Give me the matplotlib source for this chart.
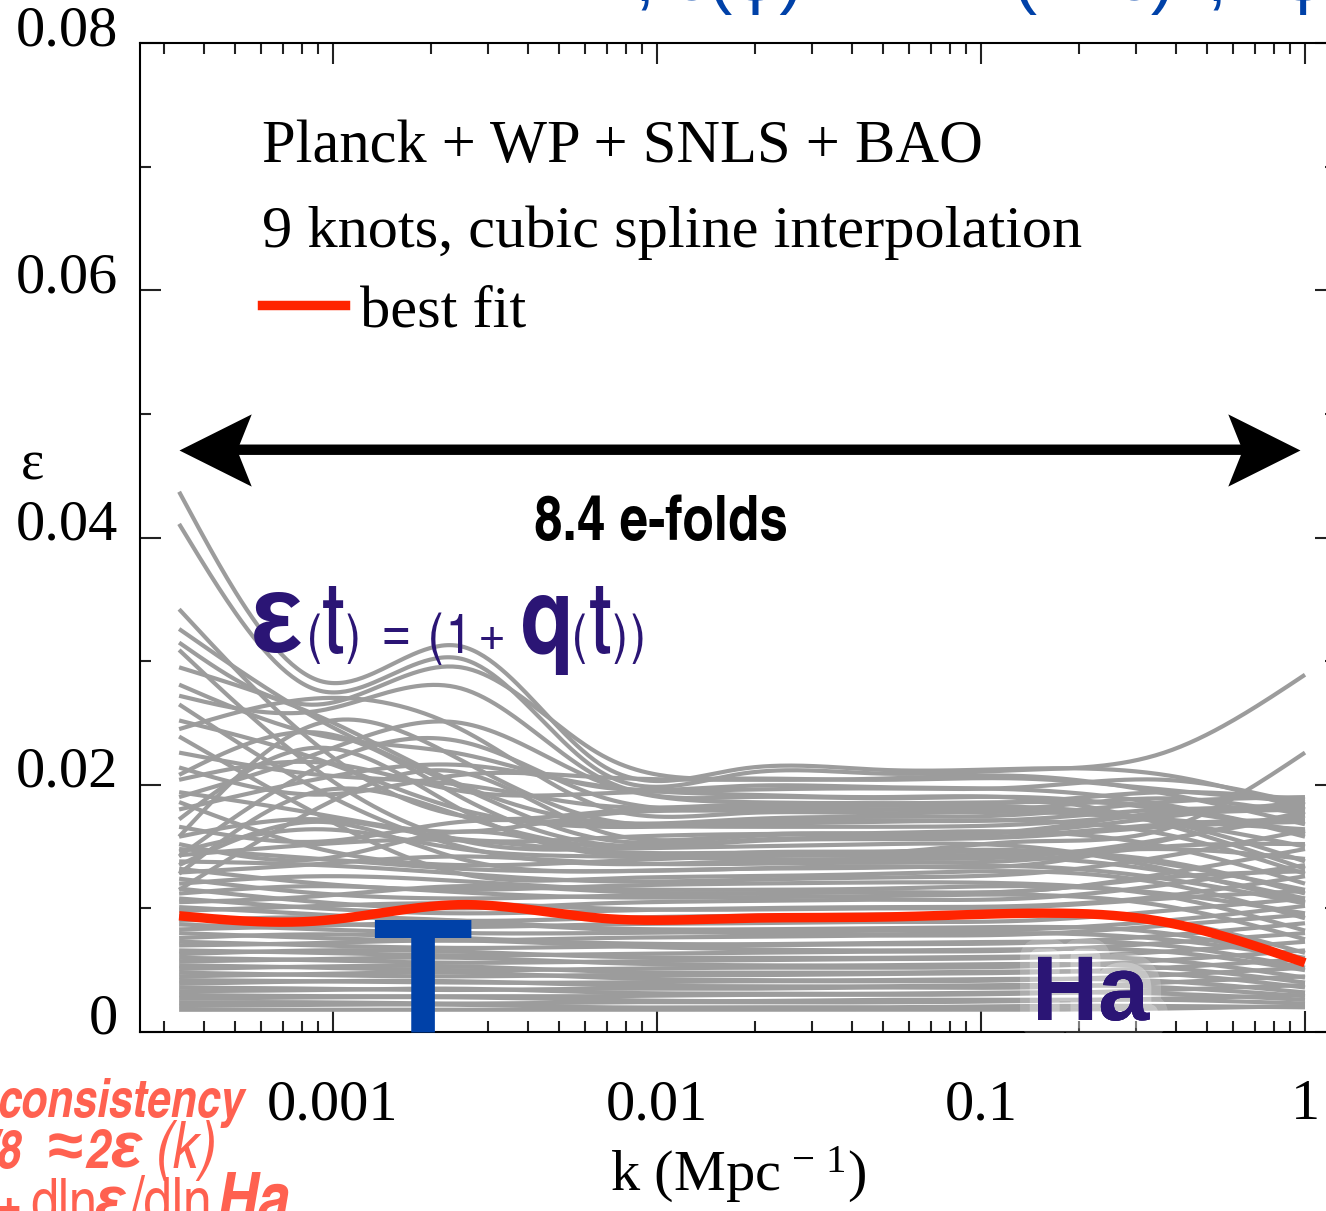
import numpy as np
import matplotlib.pyplot as plt
from matplotlib.path import Path
from matplotlib.lines import Line2D
from matplotlib.ticker import MultipleLocator, LogLocator, FuncFormatter, NullFormatter
from matplotlib import patheffects, transforms

# knots of the spline, equally spaced in ln k (e^-8 ... e^0)
k_knots = [3.35e-4, 9.12e-4, 2.48e-3, 6.74e-3, 1.83e-2, 4.98e-2, 0.135, 0.368, 1.0]

# epsilon x 1000 at the 9 knots
best_fit = [9.4, 9.0, 10.3, 9.2, 9.2, 9.3, 9.6, 8.9, 5.6]

hump_curves = [
    [43.7, 28.4, 31.2, 21.6, 21.3, 21.2, 21.3, 20.8, 18.0],
    [41.1, 27.6, 30.2, 21.0, 20.9, 20.9, 21.2, 22.6, 28.9],
    [31.5, 26.5, 29.5, 22.4, 20.5, 20.4, 20.5, 19.6, 18.6],
    [27.2, 26.0, 27.8, 20.5, 19.0, 18.9, 19.0, 18.0, 16.2],
]
steep_curves = [
    [34.2, 23.0, 17.5, 17.8, 18.2, 18.3, 18.2, 17.0, 13.8],
    [32.6, 25.2, 19.8, 15.6, 15.8, 16.0, 16.2, 17.4, 18.6],
    [30.9, 21.0, 15.5, 14.8, 15.0, 15.2, 15.0, 13.2, 10.5],
    [29.5, 25.5, 20.0, 17.0, 17.2, 17.4, 17.6, 18.6, 19.0],
    [28.1, 24.0, 22.5, 19.8, 19.9, 19.8, 19.6, 18.4, 15.8],
    [26.5, 19.5, 15.0, 13.6, 13.8, 14.0, 14.2, 15.6, 17.5],
    [25.2, 22.0, 18.0, 16.6, 16.8, 17.0, 17.1, 16.0, 12.8],
    [23.9, 17.5, 12.8, 12.4, 12.6, 12.8, 13.0, 12.0, 9.2],
    [22.6, 20.8, 20.0, 18.3, 18.4, 18.5, 18.6, 19.4, 18.8],
]
rising_curves = [
    [15.8, 25.0, 22.0, 17.2, 17.0, 17.1, 17.2, 18.0, 17.9],
    [24.5, 27.0, 24.5, 18.2, 17.7, 17.7, 17.8, 17.0, 15.0],
    [17.2, 23.0, 18.0, 14.4, 14.5, 14.6, 14.7, 13.6, 11.5],
    [20.8, 24.2, 19.0, 15.2, 15.5, 15.7, 15.9, 16.8, 17.2],
    [14.2, 21.5, 23.5, 19.0, 18.0, 18.0, 18.1, 17.2, 16.4],
    [19.0, 22.6, 25.0, 20.2, 18.6, 18.5, 18.6, 18.2, 16.0],
    [12.8, 19.5, 17.5, 15.0, 15.4, 15.6, 15.8, 16.6, 17.0],
    [11.5, 18.2, 21.0, 16.2, 15.9, 16.0, 16.3, 17.8, 18.3],
    [13.5, 17.0, 14.0, 13.0, 13.2, 13.3, 13.4, 12.4, 10.4],
]
mid_curves = [
    [21.4, 19.2, 20.8, 20.6, 20.4, 20.5, 20.7, 19.3, 16.8],
    [20.4, 21.8, 19.5, 19.3, 19.6, 19.7, 19.8, 20.4, 18.4],
    [19.4, 17.6, 16.2, 17.6, 17.9, 18.0, 18.1, 18.9, 17.6],
    [18.6, 14.8, 13.5, 13.8, 14.2, 14.3, 14.4, 14.8, 14.0],
    [18.0, 20.5, 21.6, 19.9, 19.2, 19.0, 18.9, 16.8, 13.2],
    [16.6, 15.4, 17.0, 16.8, 16.6, 16.6, 16.8, 17.6, 18.0],
    [15.8, 17.2, 15.6, 15.7, 16.0, 16.1, 16.2, 15.0, 12.0],
    [15.2, 14.0, 16.2, 14.6, 14.4, 14.5, 15.4, 16.4, 22.6],
    [14.6, 16.4, 14.8, 14.2, 14.0, 14.0, 14.1, 13.0, 10.8],
]
low_curves = [
    [14.8, 14.0, 13.2, 13.0, 13.2, 13.4, 13.5, 15.5, 17.8],
    [14.3, 15.2, 15.5, 14.6, 14.5, 14.5, 14.6, 13.8, 11.2],
    [13.8, 13.5, 12.8, 12.2, 12.3, 12.5, 12.8, 14.2, 16.3],
    [13.2, 12.0, 11.5, 11.8, 12.0, 12.1, 12.0, 11.0, 8.2],
    [12.9, 13.6, 14.2, 13.7, 13.6, 13.7, 13.9, 15.0, 15.2],
    [12.4, 11.2, 10.8, 11.0, 11.2, 11.3, 11.4, 12.8, 14.8],
    [12.0, 12.6, 12.2, 11.6, 11.5, 11.6, 11.8, 11.2, 9.6],
    [11.6, 10.5, 10.0, 10.4, 10.6, 10.7, 10.8, 11.9, 13.5],
    [11.2, 11.8, 11.3, 10.9, 10.9, 11.0, 11.1, 10.2, 7.5],
    [10.8, 10.0, 9.6, 9.8, 10.0, 10.1, 10.2, 11.0, 12.6],
    [10.5, 11.0, 11.8, 11.4, 11.2, 11.3, 11.4, 12.5, 13.0],
    [10.1, 9.5, 9.0, 9.2, 9.4, 9.5, 9.6, 9.0, 6.4],
    [9.8, 10.2, 10.4, 10.0, 9.9, 10.0, 10.1, 10.8, 11.4],
    [9.4, 8.8, 8.5, 8.7, 8.8, 8.9, 9.0, 9.8, 10.8],
    [9.0, 9.3, 9.0, 8.4, 8.3, 8.4, 8.5, 8.0, 5.8],
    [8.7, 8.3, 8.0, 8.0, 8.1, 8.2, 8.3, 9.0, 10.2],
    [8.3, 8.6, 8.8, 8.3, 8.0, 7.9, 8.0, 7.5, 6.0],
    [8.0, 7.6, 7.4, 7.6, 7.7, 7.8, 7.9, 8.6, 9.5],
    [7.6, 7.9, 7.6, 7.2, 7.1, 7.2, 7.3, 7.0, 5.2],
    [7.3, 7.0, 6.8, 6.9, 7.0, 7.1, 7.2, 7.8, 8.8],
    [7.0, 7.2, 7.4, 7.0, 6.7, 6.6, 6.7, 6.5, 5.0],
    [6.6, 6.4, 6.2, 6.3, 6.4, 6.5, 6.6, 7.2, 8.0],
    [6.3, 6.6, 6.5, 6.1, 6.0, 6.0, 6.1, 5.8, 4.4],
    [6.0, 5.8, 5.6, 5.7, 5.8, 5.9, 6.0, 6.5, 7.3],
    [5.7, 5.9, 6.0, 5.6, 5.4, 5.4, 5.5, 5.2, 4.0],
    [5.4, 5.2, 5.0, 5.1, 5.2, 5.2, 5.3, 5.8, 6.6],
    [5.1, 5.3, 5.3, 4.9, 4.8, 4.8, 4.9, 4.7, 3.6],
    [4.8, 4.6, 4.5, 4.6, 4.6, 4.7, 4.8, 5.2, 5.9],
    [4.5, 4.7, 4.8, 4.4, 4.2, 4.2, 4.3, 4.1, 3.2],
    [4.2, 4.1, 4.0, 4.0, 4.1, 4.1, 4.2, 4.6, 5.2],
    [3.9, 4.1, 4.1, 3.8, 3.7, 3.7, 3.8, 3.6, 2.9],
    [3.6, 3.5, 3.4, 3.5, 3.5, 3.6, 3.6, 4.0, 4.5],
    [3.3, 3.4, 3.5, 3.2, 3.1, 3.1, 3.2, 3.1, 2.6],
    [3.0, 2.9, 2.9, 2.9, 3.0, 3.0, 3.1, 3.4, 3.8],
    [2.7, 2.8, 2.8, 2.6, 2.5, 2.6, 2.6, 2.6, 2.3],
    [2.4, 2.4, 2.3, 2.4, 2.4, 2.4, 2.5, 2.7, 3.0],
    [2.1, 2.2, 2.2, 2.0, 2.0, 2.0, 2.1, 2.1, 2.0],
    [1.8, 1.8, 1.8, 1.8, 1.8, 1.8, 1.8, 1.9, 2.1],
]

y_ticks = [0, 0.02, 0.04, 0.06, 0.08]
arrow_k = [3.35e-4, 0.965]
arrow_eps = 0.0471

GREY = '#9c9c9c'
RED = '#ff2400'
PURPLE = '#2b1575'
BLUE = '#0041a8'
SALMON = '#ff6150'
SANS = ['Liberation Sans', 'DejaVu Sans']
COND = ['TeX Gyre Heros Cn', 'Liberation Sans', 'DejaVu Sans']

plt.rcParams['font.family'] = ['Liberation Serif', 'DejaVu Serif']
plt.rcParams['mathtext.fontset'] = 'custom'
plt.rcParams['mathtext.rm'] = 'Liberation Serif'
plt.rcParams['mathtext.it'] = 'Liberation Serif:italic'


def natural_spline(x, y, xs):
    """
    Natural cubic spline through (x, y), evaluated at xs.
    """
    x = np.asarray(x, float)
    y = np.asarray(y, float)
    n = len(x)
    h = np.diff(x)
    A = np.zeros((n, n))
    r = np.zeros(n)
    A[0, 0] = A[-1, -1] = 1
    for i in range(1, n - 1):
        A[i, i - 1] = h[i - 1]
        A[i, i] = 2 * (h[i - 1] + h[i])
        A[i, i + 1] = h[i]
        r[i] = 3 * ((y[i + 1] - y[i]) / h[i] - (y[i] - y[i - 1]) / h[i - 1])
    c = np.linalg.solve(A, r)
    b = (y[1:] - y[:-1]) / h - h * (2 * c[:-1] + c[1:]) / 3
    d = (c[1:] - c[:-1]) / (3 * h)
    idx = np.clip(np.searchsorted(x, xs) - 1, 0, n - 2)
    dx = xs - x[idx]
    return y[idx] + b[idx] * dx + c[idx] * dx ** 2 + d[idx] * dx ** 3


W, H = 1326, 1211
fig = plt.figure(figsize=(W / 100, H / 100), dpi=100)
ax = fig.add_axes([140 / W, (H - 1032) / H, (1336 - 140) / W, (1032 - 43) / H])


def put(s, x, y, size, color, weight='normal', style='normal', family=COND, ha='left', **kw):
    # place a piece of text at pixel position (x, baseline y) of the figure
    return fig.text(x / W, 1 - y / H, s, fontsize=size, color=color, fontweight=weight,
                    fontstyle=style, family=family, ha=ha, va='baseline', **kw)


# spline samples
lnk = np.log(k_knots)
ln_fine = np.linspace(lnk[0], lnk[-1], 400)
k_fine = np.exp(ln_fine)
for group in (low_curves, mid_curves, rising_curves, steep_curves, hump_curves):
    for c in group:
        ax.plot(k_fine, natural_spline(lnk, np.array(c) * 1e-3, ln_fine),
                color=GREY, lw=3.0, solid_capstyle='butt', zorder=2)
ax.plot(k_fine, natural_spline(lnk, np.array(best_fit) * 1e-3, ln_fine),
        color=RED, lw=6.8, solid_capstyle='butt', zorder=3)

# axes
ax.set_xscale('log')
ax.set_xlim(10 ** (-3 - 193 / 324), 10 ** (31 / 324))
ax.set_ylim(0, 0.08)
ax.set_yticks(y_ticks)
ax.yaxis.set_minor_locator(MultipleLocator(0.01))
ax.yaxis.set_major_formatter(FuncFormatter(lambda v, _: '0' if v == 0 else f'{v:.2f}'))
ax.xaxis.set_major_locator(LogLocator(base=10))
ax.xaxis.set_minor_locator(LogLocator(base=10, subs=range(2, 10)))
ax.xaxis.set_major_formatter(FuncFormatter(lambda v, _: f'{v:g}'))
ax.xaxis.set_minor_formatter(NullFormatter())
ax.tick_params(which='both', direction='in', top=True, right=True, width=1.5,
               labelsize=42, color='#222222')
ax.tick_params(which='major', length=15)
ax.tick_params(which='minor', length=8)
ax.tick_params(axis='x', pad=34)
ax.tick_params(axis='y', pad=16)
for sp in ax.spines.values():
    sp.set_linewidth(1.5)
up = transforms.ScaledTranslation(0, 18 / 100, fig.dpi_scale_trans)
for lab in ax.get_yticklabels():
    lab.set_transform(lab.get_transform() + up)

ax.set_ylabel('ε', rotation=0, fontsize=40, va='center', ha='center')
ax.yaxis.set_label_coords(-0.09, 0.573)
ax.set_xlabel(r'k (Mpc$^{\,-\,1}$)', fontsize=42, labelpad=10)

# legend block
ax.text((262 - 140) / 1196, (1032 - 162) / 989, 'Planck + WP + SNLS + BAO',
        transform=ax.transAxes, fontsize=43.6, va='baseline')
ax.text((262 - 140) / 1196, (1032 - 247) / 989, '9 knots, cubic spline interpolation',
        transform=ax.transAxes, fontsize=43.5, va='baseline')
best_handle = Line2D([], [], color=RED, lw=6.8)
ax.legend([best_handle], ['best fit'], loc='upper left', bbox_to_anchor=(262 / W, 1 - 284 / H),
          bbox_transform=fig.transFigure, frameon=False, fontsize=43.5, handlelength=1.38,
          handletextpad=0.25, borderpad=0, borderaxespad=0)

# double arrow across the k range
ax.annotate('', xy=(arrow_k[1], arrow_eps), xytext=(arrow_k[0], arrow_eps),
            arrowprops=dict(arrowstyle='-', lw=7.5, color='black', shrinkA=40, shrinkB=40),
            zorder=5)
head = Path([(0, 0), (-1, 0.5), (-0.8, 0), (-1, -0.5), (0, 0)],
            [Path.MOVETO, Path.LINETO, Path.LINETO, Path.LINETO, Path.CLOSEPOLY])
head_l = Path([(0, 0), (1, 0.5), (0.8, 0), (1, -0.5), (0, 0)],
              [Path.MOVETO, Path.LINETO, Path.LINETO, Path.LINETO, Path.CLOSEPOLY])
ax.plot([arrow_k[1]], [arrow_eps], marker=head, ms=104, color='black', mew=0, zorder=6)
ax.plot([arrow_k[0]], [arrow_eps], marker=head_l, ms=104, color='black', mew=0, zorder=6)
put('8.4 e-folds', 661, 540, 45, 'black', weight='bold', ha='center')

# epsilon(t) = (1+q(t))
put('ε', 250, 652, 80, PURPLE, weight='bold', family=SANS)
for s, x, size, wt in [('(', 307, 38, 'normal'), ('t', 322, 72, 'normal'),
                       (')', 346, 38, 'normal'), ('=', 381, 46, 'normal'), ('(', 428, 40, 'normal'),
                       ('1', 445, 40, 'normal'), ('+', 478, 42, 'normal'), ('q', 520, 76, 'bold'),
                       ('(', 572, 38, 'normal'), ('t', 589, 72, 'normal'), (')', 613, 38, 'normal'),
                       (')', 631, 38, 'normal')]:
    put(s, x, 653, size, PURPLE, weight=wt)

put('T', 372, 1032, 118, BLUE, weight='bold', family=SANS)
put('Ha', 1032, 1020, 66, PURPLE, weight='bold', family=SANS,
    path_effects=[patheffects.withStroke(linewidth=26, foreground='white', alpha=0.18),
                  patheffects.withStroke(linewidth=12, foreground='white', alpha=0.3),
                  patheffects.Normal()])

# red note, bottom left (partly outside the canvas)
put('consistency', -3, 1117, 37.5, SALMON, weight='bold', style='italic')
put('r/8', -31, 1168, 38, SALMON, weight='bold', style='italic')
put('≈', 48, 1168, 46, SALMON, weight='bold', family=SANS)
put('2', 85, 1168, 39, SALMON, weight='bold', style='italic')
put('ε', 110, 1168, 47, SALMON, weight='bold', style='italic', family=SANS)
put('(k)', 156, 1168, 46, SALMON, style='italic')
put('+', -4, 1222, 40, SALMON, weight='bold')
put('dln', 30, 1222, 44, SALMON)
put('ε', 94, 1222, 46, SALMON, weight='bold', style='italic', family=SANS)
put('/dln', 130, 1222, 45, SALMON)
put('Ha', 216, 1222, 50, SALMON, weight='bold', style='italic')

# blue heading, cut by the top edge
for s, x in [(',', 634), ('ε(φ) = 1 +', 676), ('(1−ε)', 1013), (',', 1206), ('φ', 1280)]:
    put(s, x, 0, 52, BLUE, family=SANS)

fig.savefig('out.png', dpi=100)
